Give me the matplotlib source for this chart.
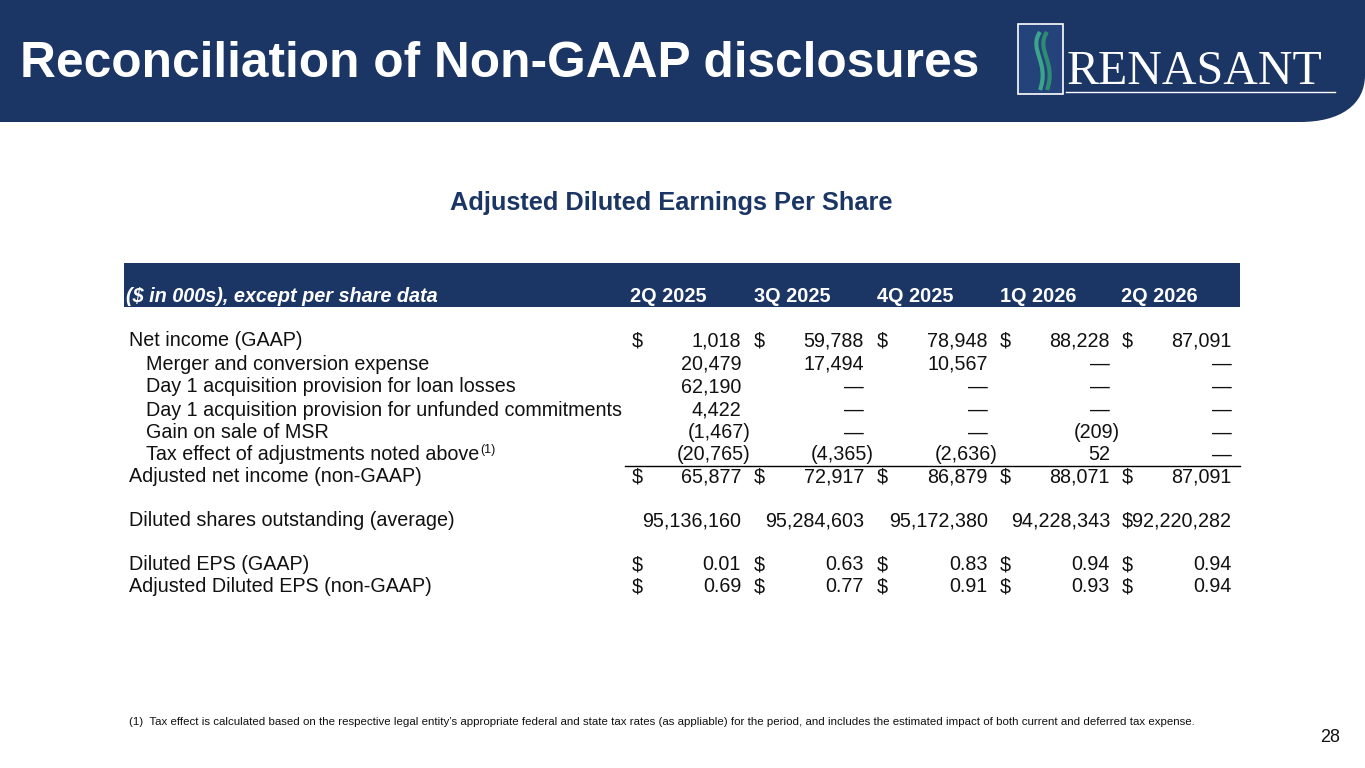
import matplotlib
matplotlib.use("Agg")
import matplotlib.pyplot as plt
from matplotlib.path import Path
from matplotlib.patches import PathPatch, Rectangle

plt.rcParams['font.family'] = ['Liberation Sans', 'DejaVu Sans']

NAVY = '#1b3665'
periods = ["2Q 2025", "3Q 2025", "4Q 2025", "1Q 2026", "2Q 2026"]
row_labels = ["Net income (GAAP)", "Merger and conversion expense",
              "Day 1 acquisition provision for loan losses",
              "Day 1 acquisition provision for unfunded commitments",
              "Gain on sale of MSR", "Tax effect of adjustments noted above",
              "Adjusted net income (non-GAAP)",
              "Diluted shares outstanding (average)",
              "Diluted EPS (GAAP)", "Adjusted Diluted EPS (non-GAAP)"]
net_income = ["1,018", "59,788", "78,948", "88,228", "87,091"]
merger = ["20,479", "17,494", "10,567", "—", "—"]
day1_loans = ["62,190", "—", "—", "—", "—"]
day1_unfunded = ["4,422", "—", "—", "—", "—"]
msr_gain = ["(1,467)", "—", "—", "(209)", "—"]
tax_effect = ["(20,765)", "(4,365)", "(2,636)", "52", "—"]
adj_net_income = ["65,877", "72,917", "86,879", "88,071", "87,091"]
diluted_shares = ["95,136,160", "95,284,603", "95,172,380", "94,228,343", "$92,220,282"]
eps_gaap = ["0.01", "0.63", "0.83", "0.94", "0.94"]
eps_adj = ["0.69", "0.77", "0.91", "0.93", "0.94"]

rows = [
    (row_labels[0], net_income, True, 0),
    (row_labels[1], merger, False, 1),
    (row_labels[2], day1_loans, False, 1),
    (row_labels[3], day1_unfunded, False, 1),
    (row_labels[4], msr_gain, False, 1),
    (row_labels[5], tax_effect, False, 1),
    (row_labels[6], adj_net_income, True, 0),
    (row_labels[7], diluted_shares, False, 0),
    (row_labels[8], eps_gaap, True, 0),
    (row_labels[9], eps_adj, True, 0),
]
row_y = [341, 364, 387, 410, 433, 455, 477, 521, 565, 587]
col_right = [741, 864, 988, 1110, 1232]
dollar_x = [632, 754, 877, 1000, 1122]
head_right = [706, 830, 953, 1076, 1198]

fig = plt.figure(figsize=(13.65, 7.68), dpi=100)
ax = fig.add_axes([0, 0, 1, 1])
ax.set_xlim(0, 1365); ax.set_ylim(768, 0); ax.axis('off')

verts = [(0, 0), (1365, 0), (1365, 75), (1365, 105), (1340, 122), (1300, 122), (0, 122), (0, 0)]
codes = [Path.MOVETO, Path.LINETO, Path.LINETO, Path.CURVE4, Path.CURVE4, Path.CURVE4, Path.LINETO, Path.CLOSEPOLY]
ax.add_patch(PathPatch(Path(verts, codes), fc=NAVY, ec='none'))
ax.text(20, 64, "Reconciliation of Non-GAAP disclosures", color='white', fontsize=35.7,
        fontweight='bold', va='center', ha='left')

ax.add_patch(Rectangle((1018, 24), 45, 70, fill=True, fc='#23437a', ec='white', lw=1.2))
for dx, c in [(0, '#3aa58a'), (7, '#2e8c74')]:
    sv = [(1040 + dx, 32), (1028 + dx, 50), (1050 + dx, 62), (1040 + dx, 90)]
    ax.add_patch(PathPatch(Path(sv, [Path.MOVETO, Path.CURVE4, Path.CURVE4, Path.CURVE4]),
                           fc='none', ec=c, lw=3))
ax.text(1067, 72, "RENASANT", family='Liberation Serif', color='white', fontsize=34.5,
        va='center', ha='left')
ax.plot([1066, 1335], [92, 92], color='white', lw=1)

ax.text(671, 203, "Adjusted Diluted Earnings Per Share", color=NAVY, fontsize=18.3,
        fontweight='bold', ha='center', va='center')

ax.add_patch(Rectangle((124, 263), 1116, 44, fc=NAVY, ec='none'))
ax.text(126, 297, "($ in 000s), except per share data", color='white', fontsize=14.3,
        fontweight='bold', style='italic', ha='left', va='center')
for p, x in zip(periods, head_right):
    ax.text(x, 297, p, color='white', fontsize=14.3, fontweight='bold', ha='right', va='center')

fs = 14.2
fig.canvas.draw()
renderer = fig.canvas.get_renderer()
for (label, vals, dollar, indent), y in zip(rows, row_y):
    lx = 129 + (17 if indent else 0)
    t = ax.text(lx, y, label, fontsize=fs, ha='left', va='center', color='#111111')
    if label.startswith("Tax effect"):
        bb = t.get_window_extent(renderer)
        xe = ax.transData.inverted().transform((bb.x1, bb.y0))[0]
        ax.text(xe + 1, y - 5, "(1)", fontsize=9, ha='left', va='center', color='#111111')
    for i, v in enumerate(vals):
        if dollar:
            ax.text(dollar_x[i], y, "$", fontsize=fs, ha='left', va='center', color='#111111')
        xr = col_right[i] + (10 if v.endswith(")") else 0)
        ax.text(xr, y, v, fontsize=fs, ha='right', va='center', color='#111111')

ax.plot([625, 1240], [466, 466], color='black', lw=1)

ax.text(129, 722, "(1)  Tax effect is calculated based on the respective legal entity’s appropriate federal and state tax rates (as appliable) for the period, and includes the estimated impact of both current and deferred tax expense.",
        fontsize=8.25, ha='left', va='center', color='#111111')
ax.text(1340, 738, "28", fontsize=13, ha='right', va='center', color='#111111')

fig.savefig("out.png", dpi=100, facecolor='white')
